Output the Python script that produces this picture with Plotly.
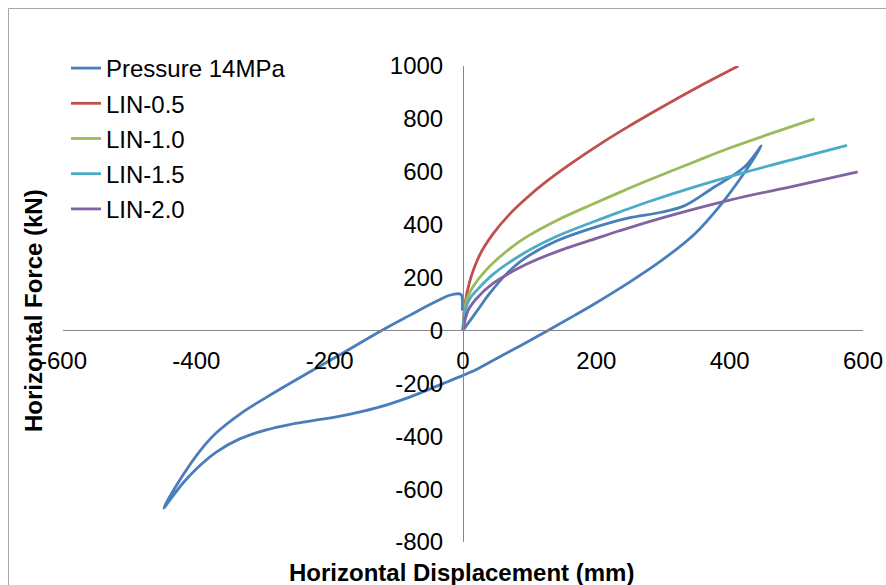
import plotly.graph_objects as go

# ---------------- data ----------------
series_names = ["Pressure 14MPa", "LIN-0.5", "LIN-1.0", "LIN-1.5", "LIN-2.0"]

p14_x = [0, 20, 40, 65, 90, 140, 197.5, 247.5, 297.5, 332.5, 372.5, 422.5, 447.5,
         422.5, 387.5, 347.5, 297.5, 247.5, 197.5, 167.5, 127.5, 87.5, 40, 20, 0, -30, -80, -130,
         -180, -230, -260, -295, -335, -370, -395, -420, -449,
         -420, -395, -370, -335, -295, -230, -180, -122, -80, -40, -20, -5, -2, -1]
p14_y = [0, 70, 140, 213, 268, 338, 390, 425, 447, 472, 535, 619, 698,
         598, 478, 365, 264, 179, 101, 57, 0, -56, -120, -148, -170, -201, -252, -293,
         -322, -343, -356, -376, -410, -460, -512, -577, -672,
         -547, -457, -387, -317, -253, -157, -85, 0, 57, 110, 133, 138, 132, 75]

lin05_x = [0, 3, 10, 25, 45, 70, 95, 120, 150, 212.5, 250, 300, 350, 413]
lin05_y = [0, 100, 185, 285, 365, 440, 500, 553, 610, 716, 774, 847, 917, 1000]

lin10_x = [0, 2, 6, 15, 25, 45, 90, 140, 195, 235, 272.5, 347.5, 400, 527]
lin10_y = [0, 70, 120, 165, 200, 255, 345, 415, 478, 522, 562, 638, 690, 800]

lin15_x = [0, 3, 10, 20, 45, 90, 140, 200, 235, 272.5, 347.5, 420, 500, 576]
lin15_y = [0, 70, 120, 150, 212, 290, 355, 415, 448, 482, 543, 596, 650, 700]

lin20_x = [0, 7.5, 20, 45, 95, 145, 200, 235, 297.5, 400, 500, 592]
lin20_y = [0, 75, 120, 178, 250, 302, 348, 377, 425, 493, 548, 600]

x_ticks = [-600, -400, -200, 0, 200, 400, 600]
y_ticks = [-800, -600, -400, -200, 0, 200, 400, 600, 800, 1000]

colors = ["#4A7EBB", "#C0504D", "#9BBB59", "#4BACC6", "#8064A2"]

# ---------------- figure ----------------
FONT = "Liberation Sans, Arial, sans-serif"
fig = go.Figure()
all_x = [p14_x, lin05_x, lin10_x, lin15_x, lin20_x]
all_y = [p14_y, lin05_y, lin10_y, lin15_y, lin20_y]
for i, (name, xs, ys, c) in enumerate(zip(series_names, all_x, all_y, colors)):
    fig.add_trace(go.Scatter(
        x=xs, y=ys, name=name, mode="lines", legendgroup=f"g{i}",
        line=dict(color=c, width=2.8, shape="spline", smoothing=1.0),
    ))

W, H = 886, 585
L, R, T, B = 63, 23, 66, 43
pw, ph = W - L - R, H - T - B

def px_x(p):
    return (p - L) / pw

def px_y(p):
    return (H - B - p) / ph

xr = [-600, 600]
yr = [-800, 1000]

fig.update_layout(
    width=W, height=H,
    margin=dict(l=L, r=R, t=T, b=B, autoexpand=False),
    paper_bgcolor="white", plot_bgcolor="white",
    font=dict(family=FONT, size=24, color="black"),
    showlegend=True,
    legend=dict(
        x=px_x(66), y=px_y(46), xanchor="left", yanchor="top",
        bgcolor="rgba(0,0,0,0)", font=dict(family=FONT, size=24),
        tracegroupgap=1,
    ),
    xaxis=dict(
        range=xr, tickvals=x_ticks, ticktext=[str(v) for v in x_ticks],
        showgrid=False, zeroline=False, showline=True, linecolor="#868686", linewidth=1,
        anchor="free", position=(0 - yr[0]) / (yr[1] - yr[0]), automargin=False,
        ticks="", ticklabelstandoff=9,
        tickfont=dict(family=FONT, size=24, color="black"),
    ),
    yaxis=dict(
        range=yr, tickvals=y_ticks, ticktext=[str(v) for v in y_ticks],
        showgrid=False, zeroline=False, showline=True, linecolor="#868686", linewidth=1,
        anchor="free", position=(0 - xr[0]) / (xr[1] - xr[0]), automargin=False,
        ticks="", ticklabelstandoff=15,
        tickfont=dict(family=FONT, size=24, color="black"),
    ),
    annotations=[
        dict(text="<b>Horizontal Displacement (mm)</b>", xref="paper", yref="paper",
             x=px_x(461), y=px_y(572), xanchor="center", yanchor="middle",
             showarrow=False, font=dict(family=FONT, size=24, color="black")),
        dict(text="<b>Horizontal Force (kN)</b>", xref="paper", yref="paper",
             x=px_x(33), y=px_y(311), xanchor="center", yanchor="middle", textangle=-90,
             showarrow=False, font=dict(family=FONT, size=24, color="black")),
    ],
    shapes=[
        dict(type="rect", xref="paper", yref="paper",
             x0=px_x(8.5), x1=px_x(900), y0=px_y(600), y1=px_y(8.5),
             line=dict(color="#A6A6A6", width=1), fillcolor="rgba(0,0,0,0)", layer="below"),
    ],
)

fig.write_html(
    "out.html",
    config={"displayModeBar": False},
    post_script="document.body.style.margin='0px';document.body.style.overflow='hidden';",
)
